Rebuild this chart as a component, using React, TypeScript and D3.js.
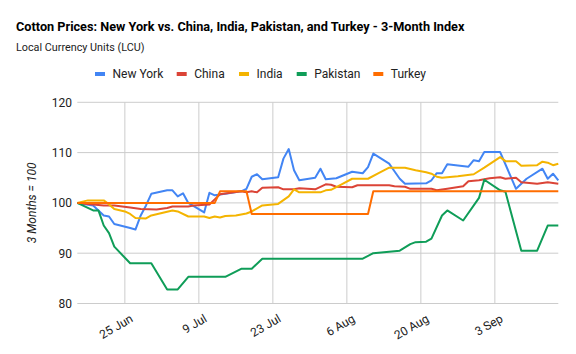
import { scaleTime, scaleLinear, line, timeFormat, timeParse } from 'd3';

// series values (dates are 2018, "MM-DD")
const newYork: [string, number][] = [
  ['06-16', 100], ['06-19', 99.5], ['06-21', 97.5], ['06-22', 97.3], ['06-23', 95.8],
  ['06-26', 95.0], ['06-27', 94.7], ['06-28', 97.5], ['06-29', 99.5], ['06-30', 101.8],
  ['07-03', 102.5], ['07-04', 102.5], ['07-05', 101.3], ['07-06', 101.9], ['07-07', 100.0],
  ['07-10', 98.1], ['07-11', 102.0], ['07-12', 101.5], ['07-14', 101.8], ['07-17', 102.3],
  ['07-18', 102.8], ['07-19', 105.2], ['07-20', 105.7], ['07-21', 104.7], ['07-24', 105.1],
  ['07-25', 108.8], ['07-26', 110.7], ['07-27', 106.5], ['07-28', 104.5], ['07-31', 105.0],
  ['08-01', 106.8], ['08-02', 104.7], ['08-04', 104.9], ['08-07', 106.2], ['08-09', 105.9],
  ['08-10', 107.1], ['08-11', 109.8], ['08-14', 107.8], ['08-15', 106.3], ['08-16', 104.8],
  ['08-17', 103.8], ['08-21', 103.9], ['08-22', 104.5], ['08-23', 105.9], ['08-24', 105.9],
  ['08-25', 107.7], ['08-29', 107.2], ['08-30', 108.5], ['08-31', 108.3], ['09-01', 110.1],
  ['09-04', 110.1], ['09-07', 102.8], ['09-09', 104.8], ['09-12', 106.8], ['09-13', 104.8],
  ['09-14', 105.8], ['09-15', 104.5],
];

const china: [string, number][] = [
  ['06-16', 100], ['06-18', 99.8], ['06-21', 99.5], ['06-23', 99.5], ['06-26', 99.1],
  ['06-28', 98.8], ['07-01', 98.7], ['07-03', 99.0], ['07-04', 99.3], ['07-07', 99.3],
  ['07-08', 99.5], ['07-11', 99.7], ['07-12', 100.7], ['07-13', 101.7], ['07-15', 102.0],
  ['07-17', 102.3], ['07-18', 102.1], ['07-19', 102.3], ['07-20', 102.1], ['07-21', 103.0],
  ['07-24', 103.1], ['07-25', 102.7], ['07-27', 102.7], ['07-28', 102.9], ['07-31', 102.7],
  ['08-02', 103.7], ['08-03', 103.6], ['08-04', 103.2], ['08-07', 103.1], ['08-08', 103.5],
  ['08-14', 103.5], ['08-15', 103.3], ['08-17', 103.2], ['08-18', 102.8], ['08-22', 102.8],
  ['08-23', 102.5], ['08-25', 102.8], ['08-28', 103.3], ['08-29', 104.3], ['08-31', 104.5],
  ['09-02', 104.9], ['09-04', 105.1], ['09-05', 104.8], ['09-07', 105.0], ['09-08', 104.1],
  ['09-11', 103.8], ['09-13', 104.1], ['09-15', 103.8],
];

const india: [string, number][] = [
  ['06-16', 100], ['06-18', 100.5], ['06-21', 100.5], ['06-22', 99.7], ['06-23', 98.8],
  ['06-25', 98.3], ['06-26', 97.8], ['06-27', 97.0], ['06-29', 96.9], ['06-30', 97.5],
  ['07-02', 98.0], ['07-04', 98.5], ['07-05', 98.3], ['07-07', 97.3], ['07-10', 97.3],
  ['07-11', 97.0], ['07-12', 97.3], ['07-13', 97.1], ['07-14', 97.4], ['07-16', 97.5],
  ['07-18', 97.9], ['07-19', 98.3], ['07-21', 99.5], ['07-24', 99.8], ['07-26', 101.3],
  ['07-27', 102.7], ['07-28', 102.1], ['08-01', 102.1], ['08-02', 102.5], ['08-03', 102.6],
  ['08-05', 103.7], ['08-07', 104.8], ['08-10', 104.8], ['08-12', 105.9], ['08-14', 107.0],
  ['08-17', 107.0], ['08-19', 106.5], ['08-21', 106.1], ['08-22', 105.8], ['08-23', 105.2],
  ['08-24', 105.0], ['08-27', 105.3], ['08-30', 105.7], ['09-01', 107.0], ['09-03', 108.4],
  ['09-04', 109.1], ['09-05', 108.3], ['09-07', 108.3], ['09-08', 107.4], ['09-11', 107.5],
  ['09-12', 108.2], ['09-13', 108.0], ['09-14', 107.5], ['09-15', 107.8],
];

const pakistan: [string, number][] = [
  ['06-16', 100], ['06-19', 98.5], ['06-20', 98.5], ['06-21', 95.5], ['06-22', 94.0],
  ['06-23', 91.3], ['06-26', 88.0], ['06-30', 88.0], ['07-03', 82.8], ['07-05', 82.8],
  ['07-07', 85.3], ['07-14', 85.3], ['07-17', 86.9], ['07-19', 86.9], ['07-21', 88.9],
  ['08-09', 88.9], ['08-11', 90.0], ['08-14', 90.3], ['08-16', 90.5], ['08-18', 91.8],
  ['08-19', 92.2], ['08-21', 92.3], ['08-22', 92.9], ['08-24', 97.5], ['08-25', 98.5],
  ['08-28', 96.5], ['08-31', 101.0], ['09-01', 104.6], ['09-04', 102.5], ['09-05', 102.2],
  ['09-08', 90.5], ['09-11', 90.5], ['09-13', 95.5], ['09-15', 95.5],
];

const turkey: [string, number][] = [
  ['06-16', 100], ['07-12', 100], ['07-13', 102.3], ['07-18', 102.3], ['07-19', 97.8],
  ['08-10', 97.8], ['08-11', 102.3], ['09-15', 102.3],
];

const seriesNames = ['New York', 'China', 'India', 'Pakistan', 'Turkey'];
const seriesData = [newYork, china, india, pakistan, turkey];
const colors = ['#4285f4', '#db4437', '#f4b400', '#0f9d58', '#ff6d00'];

const yTicks = [80, 90, 100, 110, 120];
const xTickLabels = ['06-25', '07-09', '07-23', '08-06', '08-20', '09-03'];

const parse = timeParse('%Y-%m-%d');
const toDate = (s: string) => parse('2018-' + s) as Date;
const fmt = timeFormat('%-d %b');

const W = 576;
const H = 354;
const margin = { left: 77.3, right: 576 - 558.3, top: 102.3, bottom: 354 - 303.5 };
const legendX = [95, 176.7, 239, 296.7, 373.3];

export default function App() {
  const x = scaleTime()
    .domain([toDate('06-16'), toDate('09-15')])
    .range([margin.left, W - margin.right]);
  const y = scaleLinear()
    .domain([80, 120])
    .range([H - margin.bottom, margin.top]);

  const lineGen = line<[string, number]>()
    .x(d => x(toDate(d[0])))
    .y(d => y(d[1]));

  return (
    <svg width={W} height={H} style={{ position: 'absolute', left: 0, top: 0, fontFamily: 'Roboto' }}>
      <rect width={W} height={H} fill="#fff" />
      {/* title */}
      <text x={16} y={31} fontSize={12.7} fontWeight="bold" fill="#000">
        Cotton Prices: New York vs. China, India, Pakistan, and Turkey - 3-Month Index
      </text>
      <text x={16} y={51} fontSize={10.8} fill="#222">Local Currency Units (LCU)</text>

      {/* legend */}
      {seriesNames.map((name, i) => (
        <g key={name}>
          <rect x={legendX[i]} y={72} width={10} height={4} fill={colors[i]} />
          <text x={legendX[i] + 17.5} y={78.3} fontSize={12} fill="#222">{name}</text>
        </g>
      ))}

      {/* gridlines */}
      {yTicks.map(t => (
        <g key={t}>
          <line x1={margin.left} x2={W - margin.right} y1={y(t)} y2={y(t)} stroke="#cccccc" />
          <text x={72} y={y(t) + 4.5} fontSize={12} textAnchor="end" fill="#222">{t}</text>
        </g>
      ))}
      {xTickLabels.map(t => {
        const px = x(toDate(t));
        return (
          <g key={t}>
            <line x1={px} x2={px} y1={margin.top} y2={H - margin.bottom} stroke="#cccccc" />
            <text
              x={px + 9}
              y={321}
              fontSize={12}
              textAnchor="end"
              fill="#222"
              transform={`rotate(-30 ${px + 9} 321)`}
            >
              {fmt(toDate(t))}
            </text>
          </g>
        );
      })}

      {/* y axis title */}
      <text
        x={0}
        y={0}
        fontSize={12}
        fontStyle="italic"
        textAnchor="middle"
        fill="#222"
        transform={`translate(35.5 ${(margin.top + H - margin.bottom) / 2}) rotate(-90)`}
      >
        3 Months = 100
      </text>

      {/* lines: later series sit on top */}
      {seriesData.map((d, i) => (
        <path key={seriesNames[i]} d={lineGen(d) || ''} fill="none" stroke={colors[i]} strokeWidth={2} strokeLinejoin="round" />
      ))}
    </svg>
  );
}
